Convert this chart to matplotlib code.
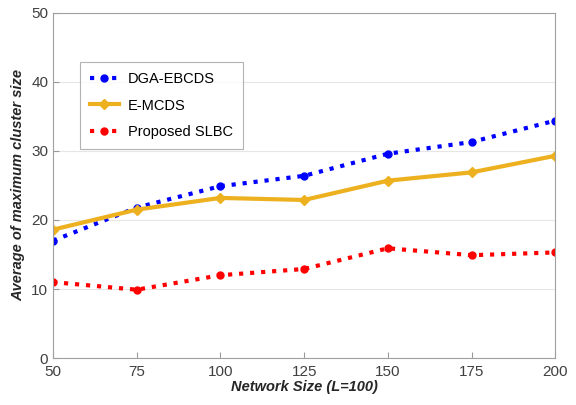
import matplotlib
matplotlib.use("Agg")
import matplotlib.pyplot as plt

plt.rcParams["font.family"] = ["Liberation Sans", "DejaVu Sans"]

# --- data ---
network_size = [50, 75, 100, 125, 150, 175, 200]
dga_ebcds = [17.0, 21.8, 24.9, 26.4, 29.6, 31.3, 34.4]
e_mcds = [18.6, 21.5, 23.2, 22.9, 25.7, 26.9, 29.3]
proposed_slbc = [11.0, 9.9, 12.0, 12.9, 15.9, 14.9, 15.3]
y_ticks = [0, 10, 20, 30, 40, 50]

fig = plt.figure(figsize=(5.76, 4.05), dpi=100)
ax = fig.add_axes([0.092, 0.116, 0.872, 0.852])

ax.plot(network_size, dga_ebcds, linestyle=":", color="#0000ff", lw=3,
        marker="o", ms=5, label="DGA-EBCDS")
ax.plot(network_size, e_mcds, linestyle="-", color="#EDB120", lw=3,
        marker="D", ms=5, label="E-MCDS")
ax.plot(network_size, proposed_slbc, linestyle=":", color="#ff0000", lw=3,
        marker="o", ms=5, label="Proposed SLBC")

ax.set_xlim(50, 200)
ax.set_ylim(0, 50)
ax.set_xticks(network_size)
ax.set_yticks(y_ticks)
ax.yaxis.grid(True, color="#e6e6e6", lw=0.8)
ax.set_axisbelow(True)
ax.tick_params(direction="in", colors="#9a9a9a", labelcolor="#404040",
               labelsize=11, length=4)
ax.tick_params(axis="x", pad=5)
for sp in ax.spines.values():
    sp.set_color("#a0a0a0")

ax.set_xlabel("Network Size (L=100)", fontsize=10.5, fontweight="bold",
              fontstyle="italic", color="#262626", labelpad=1)
ax.set_ylabel("Average of maximum cluster size", fontsize=10.5,
              fontweight="bold", fontstyle="italic", color="#262626", labelpad=4)

leg = ax.legend(loc="upper left", bbox_to_anchor=(0.053, 0.858), fontsize=10.5,
                frameon=True, fancybox=False, handlelength=2.0,
                handletextpad=0.6, labelspacing=0.85, borderpad=0.7,
                borderaxespad=0)
leg.get_frame().set_edgecolor("#a0a0a0")
leg.get_frame().set_linewidth(0.8)

plt.savefig("out.png", dpi=100)
